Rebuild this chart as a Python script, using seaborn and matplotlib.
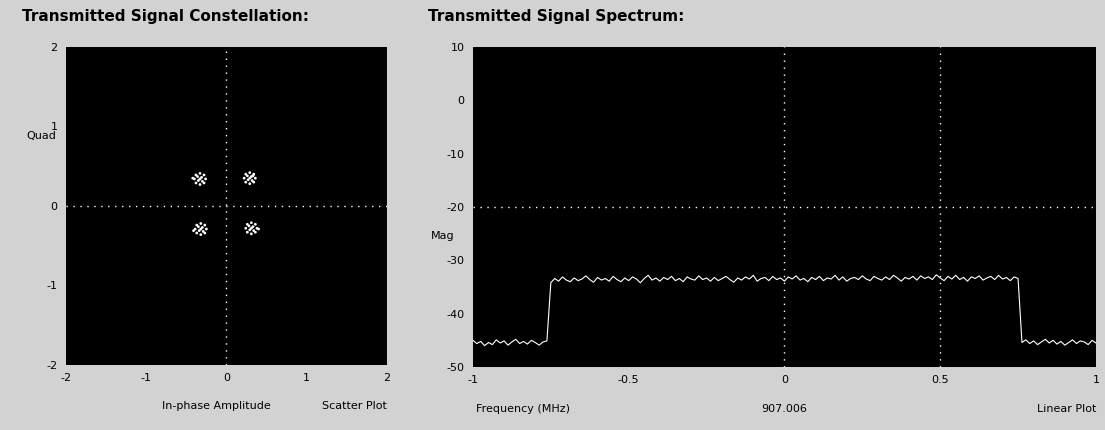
import numpy as np
import pandas as pd
import matplotlib
matplotlib.use("Agg")
import matplotlib.pyplot as plt
import seaborn as sns

# Constellation samples (QPSK clusters)
i_vals = [-0.26, -0.28, -0.33, -0.38, -0.40, -0.38, -0.33, -0.28, -0.33, -0.31, -0.35, -0.42, -0.30, -0.36,
          0.36, 0.34, 0.29, 0.24, 0.22, 0.24, 0.29, 0.34, 0.29, 0.31, 0.27, 0.32, 0.26, 0.33,
          -0.25, -0.27, -0.32, -0.37, -0.39, -0.37, -0.32, -0.27, -0.32, -0.30, -0.34, -0.29, -0.35, -0.41,
          0.38, 0.36, 0.31, 0.26, 0.24, 0.26, 0.31, 0.36, 0.31, 0.33, 0.29, 0.34, 0.28, 0.40]
q_vals = [0.34, 0.39, 0.41, 0.39, 0.34, 0.29, 0.27, 0.29, 0.34, 0.36, 0.32, 0.35, 0.31, 0.37,
          0.35, 0.40, 0.42, 0.40, 0.35, 0.30, 0.28, 0.30, 0.35, 0.37, 0.33, 0.32, 0.38, 0.38,
          -0.29, -0.24, -0.22, -0.24, -0.29, -0.34, -0.36, -0.34, -0.29, -0.27, -0.31, -0.32, -0.26, -0.31,
          -0.28, -0.23, -0.21, -0.23, -0.28, -0.33, -0.35, -0.33, -0.28, -0.26, -0.30, -0.31, -0.25, -0.29]

# Spectrum magnitude (dB), 161 points from -1 to 1 MHz
floor_left = [-45.0, -45.6, -45.2, -46.0, -45.4, -45.8, -44.9, -45.5, -45.1, -45.9,
              -45.3, -44.8, -45.6, -45.2, -45.7, -45.0, -45.4, -45.9, -45.3, -45.1]
band = [-34.2, -33.4, -33.9, -33.1, -33.7, -34.0, -33.3, -33.8, -33.5, -32.9,
        -33.6, -34.1, -33.2, -33.7, -33.4, -33.9, -33.0, -33.6, -34.0, -33.3,
        -33.8, -33.1, -33.5, -34.2, -33.4, -32.8, -33.7, -33.3, -33.9, -33.2,
        -33.6, -33.0, -33.8, -33.4, -34.0, -33.1, -33.5, -33.7, -32.9, -33.6,
        -33.3, -33.9, -33.2, -33.8, -33.4, -33.0, -33.6, -34.1, -33.3, -33.7,
        -33.1, -33.5, -32.8, -33.9, -33.4, -33.2, -33.8, -33.0, -33.6, -33.3,
        -33.9, -33.1, -33.5, -32.9, -33.7, -33.4, -34.0, -33.2, -33.6, -33.0,
        -33.8, -33.3, -33.5, -32.8, -33.7, -33.1, -33.9, -33.4, -33.2, -33.6,
        -32.9, -33.5, -33.8, -33.0, -33.4, -33.7, -33.1, -33.6, -32.8, -33.3,
        -33.9, -33.2, -33.5, -33.0, -33.7, -32.9, -33.4, -33.1, -33.6, -32.7,
        -33.3, -33.8, -33.0, -33.5, -32.8, -33.6, -33.2, -33.9, -33.1, -33.4,
        -32.9, -33.7, -33.3, -33.0, -33.6, -32.8, -33.5, -33.2, -33.8, -33.1,
        -33.4]
floor_right = [-45.4, -44.9, -45.6, -45.1, -45.8, -45.3, -44.8, -45.5, -45.0, -45.7,
               -45.2, -45.9, -45.4, -44.9, -45.6, -45.1, -45.3, -45.8, -45.0, -45.5]
mag_db = floor_left + band + floor_right
freq_mhz = np.linspace(-1, 1, len(mag_db))

const_ticks = [-2, -1, 0, 1, 2]
spec_xticks = [-1, -0.5, 0, 0.5, 1]
spec_xlabels = ["-1", "-0.5", "0", "0.5", "1"]
spec_yticks = [10, 0, -10, -20, -30, -40, -50]

sns.set_style("dark")
plt.rcParams['font.family'] = ['DejaVu Sans']
plt.rcParams['axes.unicode_minus'] = False
plt.rcParams['text.color'] = "black"
bg = "#d2d2d2"

fig = plt.figure(figsize=(11.05, 4.30), dpi=100, facecolor=bg)
ax1 = fig.add_axes([0.0597, 0.1512, 0.2905, 0.7395])
ax2 = fig.add_axes([0.428, 0.1465, 0.5638, 0.744])

for ax in (ax1, ax2):
    ax.set_facecolor("black")
    for s in ax.spines.values():
        s.set_visible(False)
    ax.tick_params(length=0, labelsize=8, colors="black", pad=6)
    ax.grid(False)

# Constellation
const_df = pd.DataFrame({"I": i_vals, "Q": q_vals})
ax1.axvline(0, color="white", ls=(0, (1, 4)), lw=1)
ax1.axhline(0, color="white", ls=(0, (1, 4)), lw=1)
sns.scatterplot(data=const_df, x="I", y="Q", ax=ax1, color="white", s=4,
                edgecolor="none", legend=False)
ax1.set_xlim(-2, 2)
ax1.set_ylim(-2, 2)
ax1.set_xticks(const_ticks)
ax1.set_yticks(const_ticks)
ax1.set_xlabel("")
ax1.set_ylabel("")
ax1.text(-0.03, 0.72, "Quad", transform=ax1.transAxes, ha="right", va="center", fontsize=8)
ax1.text(0.3, -0.13, "In-phase Amplitude", transform=ax1.transAxes, ha="left", va="center", fontsize=8)
ax1.text(1.0, -0.13, "Scatter Plot", transform=ax1.transAxes, ha="right", va="center", fontsize=8)

# Spectrum
spec_df = pd.DataFrame({"freq": freq_mhz, "mag": mag_db})
for xv in (0, 0.5):
    ax2.axvline(xv, color="white", ls=(0, (1, 4)), lw=1)
ax2.axhline(-20, color="white", ls=(0, (1, 4)), lw=1)
sns.lineplot(data=spec_df, x="freq", y="mag", ax=ax2, color="white", lw=0.8)
ax2.set_xlim(-1, 1)
ax2.set_ylim(-50, 10)
ax2.set_xticks(spec_xticks)
ax2.set_xticklabels(spec_xlabels)
ax2.set_yticks(spec_yticks)
ax2.set_xlabel("")
ax2.set_ylabel("")
ax2.text(-0.03, 0.41, "Mag", transform=ax2.transAxes, ha="right", va="center", fontsize=8)
ax2.text(0.005, -0.13, "Frequency (MHz)", transform=ax2.transAxes, ha="left", va="center", fontsize=8)
ax2.text(0.5, -0.13, "907.006", transform=ax2.transAxes, ha="center", va="center", fontsize=8)
ax2.text(1.0, -0.13, "Linear Plot", transform=ax2.transAxes, ha="right", va="center", fontsize=8)

fig.text(22 / 1105, 1 - 16 / 430, "Transmitted Signal Constellation:", fontsize=11,
         fontweight="bold", ha="left", va="center")
fig.text(428 / 1105, 1 - 16 / 430, "Transmitted Signal Spectrum:", fontsize=11,
         fontweight="bold", ha="left", va="center")

fig.savefig("out.png", dpi=100, facecolor=bg)
